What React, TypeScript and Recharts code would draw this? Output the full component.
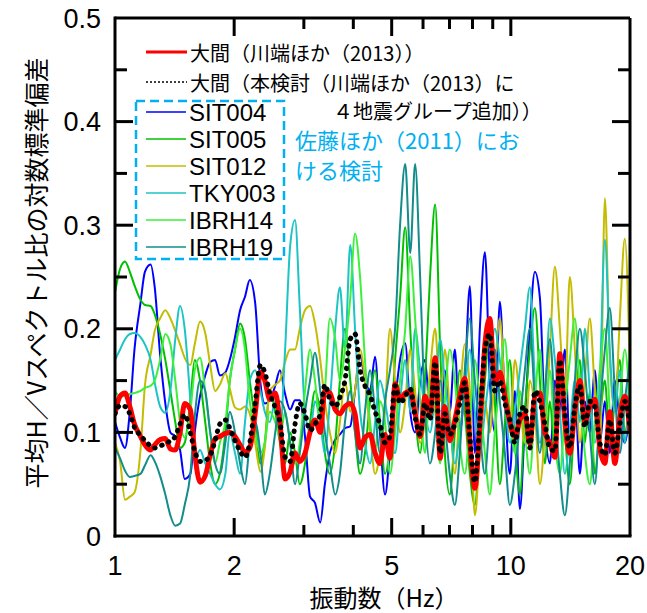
import { LineChart, Line, XAxis, YAxis, Label, ReferenceLine } from "recharts";

// 振動数 (Hz)
const freqs = [
  1.0, 1.03, 1.06, 1.09, 1.12, 1.16, 1.19, 1.23, 1.26, 1.3,
  1.34, 1.38, 1.42, 1.46, 1.5, 1.55, 1.59, 1.64, 1.69, 1.74,
  1.79, 1.84, 1.9, 1.95, 2.01, 2.07, 2.13, 2.19, 2.26, 2.33,
  2.39, 2.46, 2.54, 2.61, 2.69, 2.77, 2.85, 2.93, 3.02, 3.11,
  3.2, 3.3, 3.39, 3.49, 3.6, 3.7, 3.81, 3.93, 4.04, 4.16,
  4.28, 4.41, 4.54, 4.67, 4.81, 4.95, 5.1, 5.25, 5.41, 5.57,
  5.73, 5.9, 6.07, 6.25, 6.44, 6.63, 6.81, 7.01, 7.22, 7.43,
  7.65, 7.88, 8.11, 8.35, 8.6, 8.85, 9.11, 9.38, 9.66, 9.94,
  10.24, 10.54, 10.85, 11.17, 11.5, 11.84, 12.19, 12.55, 12.92, 13.3,
  13.69, 14.09, 14.51, 14.94, 15.38, 15.83, 16.3, 16.78, 17.28, 17.78,
  18.31, 18.85, 19.41, 20.0,
];

// 大間（川端ほか（2013））
const kawabata = [
  0.118, 0.135, 0.138, 0.125, 0.108, 0.096, 0.088, 0.083, 0.088, 0.093,
  0.094, 0.084, 0.083, 0.1, 0.128, 0.122, 0.08, 0.052, 0.058, 0.078,
  0.094, 0.096, 0.099, 0.1, 0.096, 0.088, 0.081, 0.085, 0.118, 0.158,
  0.15, 0.132, 0.138, 0.11, 0.055, 0.062, 0.08, 0.072, 0.08, 0.1,
  0.112, 0.1, 0.14, 0.138, 0.122, 0.118, 0.125, 0.128, 0.118, 0.085,
  0.095, 0.098, 0.08, 0.07, 0.098, 0.075, 0.147, 0.132, 0.138, 0.14,
  0.118, 0.096, 0.135, 0.118, 0.172, 0.075, 0.125, 0.092, 0.112, 0.135,
  0.152, 0.09, 0.046, 0.105, 0.185, 0.21, 0.148, 0.158, 0.135, 0.11,
  0.096, 0.112, 0.118, 0.089, 0.135, 0.138, 0.1, 0.09, 0.076, 0.176,
  0.11, 0.08, 0.12, 0.15, 0.11, 0.125, 0.132, 0.085, 0.07, 0.12,
  0.07, 0.115, 0.135, 0.1,
];

// 大間（本検討）
const honkento = [
  0.118, 0.126, 0.125, 0.118, 0.105, 0.097, 0.092, 0.087, 0.085, 0.087,
  0.089, 0.092, 0.096, 0.108, 0.117, 0.1, 0.082, 0.072, 0.073, 0.078,
  0.092, 0.108, 0.112, 0.104, 0.092, 0.082, 0.076, 0.09, 0.128, 0.165,
  0.158, 0.138, 0.124, 0.11, 0.076, 0.072, 0.108, 0.128, 0.118, 0.102,
  0.108, 0.118, 0.146, 0.132, 0.125, 0.134, 0.15, 0.19, 0.195, 0.16,
  0.145, 0.136, 0.12, 0.108, 0.09, 0.096, 0.145, 0.128, 0.135, 0.142,
  0.115, 0.098, 0.128, 0.112, 0.168, 0.08, 0.118, 0.098, 0.108, 0.128,
  0.148, 0.095, 0.052, 0.112, 0.18, 0.195, 0.14, 0.15, 0.128, 0.112,
  0.09, 0.118, 0.125, 0.085, 0.14, 0.13, 0.108, 0.085, 0.082, 0.17,
  0.118, 0.085, 0.125, 0.145, 0.105, 0.13, 0.125, 0.09, 0.078, 0.112,
  0.08, 0.108, 0.13, 0.105,
];

const sit004 = [
  0.11, 0.095, 0.085, 0.12, 0.18, 0.225, 0.255, 0.262, 0.24, 0.175,
  0.128, 0.1, 0.096, 0.083, 0.055, 0.06, 0.1, 0.135, 0.155, 0.168,
  0.17, 0.155, 0.158, 0.17, 0.192, 0.218, 0.231, 0.247, 0.225, 0.148,
  0.128, 0.131, 0.145, 0.16, 0.137, 0.122, 0.131, 0.131, 0.096, 0.038,
  0.032, 0.013, 0.05, 0.08, 0.093, 0.098, 0.104, 0.106, 0.14, 0.175,
  0.15, 0.141, 0.173, 0.1, 0.04, 0.08, 0.13, 0.17, 0.186, 0.12,
  0.1, 0.15, 0.17, 0.12, 0.14, 0.09, 0.16, 0.12, 0.18, 0.1,
  0.15, 0.241, 0.08, 0.2, 0.274, 0.15, 0.1, 0.226, 0.13, 0.06,
  0.14, 0.026, 0.11, 0.2, 0.255, 0.23, 0.11, 0.07, 0.15, 0.12,
  0.18, 0.09, 0.14, 0.06, 0.13, 0.1, 0.16, 0.09, 0.13, 0.08,
  0.15, 0.11, 0.09, 0.13,
];

const sit005 = [
  0.235, 0.258, 0.265, 0.255, 0.242, 0.228, 0.223, 0.222, 0.214, 0.195,
  0.17, 0.14, 0.11, 0.085, 0.09, 0.13, 0.17, 0.15, 0.11, 0.07,
  0.05, 0.06, 0.1, 0.15, 0.18, 0.205, 0.19, 0.15, 0.11, 0.07,
  0.09, 0.14, 0.12, 0.09, 0.07, 0.1, 0.08, 0.05, 0.07, 0.11,
  0.14, 0.12, 0.08, 0.06, 0.09, 0.15, 0.2, 0.15, 0.1, 0.06,
  0.08, 0.13, 0.16, 0.11, 0.06, 0.09, 0.17, 0.23, 0.298, 0.2,
  0.12, 0.08, 0.15, 0.25, 0.32, 0.18, 0.08, 0.04, 0.1, 0.16,
  0.12, 0.06, 0.03, 0.09, 0.15, 0.2, 0.13, 0.05, 0.11, 0.17,
  0.09, 0.04, 0.12, 0.18, 0.22, 0.15, 0.07, 0.13, 0.08, 0.16,
  0.1, 0.05, 0.12, 0.17, 0.09, 0.14, 0.06, 0.11, 0.15, 0.09,
  0.13, 0.17, 0.1, 0.14,
];

const sit012 = [
  0.09, 0.072, 0.035, 0.038, 0.042, 0.083, 0.145, 0.175, 0.198, 0.21,
  0.218, 0.21, 0.198, 0.185, 0.172, 0.165, 0.185, 0.207, 0.196, 0.165,
  0.14, 0.146, 0.157, 0.142, 0.124, 0.122, 0.125, 0.118, 0.09, 0.062,
  0.085, 0.14, 0.146, 0.15, 0.168, 0.18, 0.18, 0.2, 0.218, 0.222,
  0.205, 0.17, 0.13, 0.1, 0.08, 0.11, 0.15, 0.12, 0.14, 0.18,
  0.15, 0.1, 0.06, 0.08, 0.12, 0.2, 0.15, 0.1, 0.13, 0.18,
  0.14, 0.09, 0.11, 0.16, 0.2, 0.13, 0.18, 0.12, 0.06, 0.13,
  0.185, 0.14, 0.02, 0.08, 0.13, 0.1, 0.16, 0.21, 0.14, 0.1,
  0.17, 0.13, 0.09, 0.15, 0.12, 0.05, 0.1, 0.18, 0.26, 0.2,
  0.13, 0.25, 0.18, 0.09, 0.15, 0.21, 0.14, 0.08, 0.326, 0.17,
  0.12, 0.21, 0.287, 0.15,
];

const tky003 = [
  0.17, 0.18, 0.19, 0.195, 0.196, 0.192, 0.185, 0.17, 0.148, 0.125,
  0.119, 0.14, 0.19, 0.222, 0.2, 0.131, 0.075, 0.083, 0.07, 0.06,
  0.05, 0.045, 0.06, 0.1, 0.08, 0.06, 0.11, 0.15, 0.16, 0.14,
  0.12, 0.11, 0.13, 0.1, 0.18, 0.28, 0.305, 0.22, 0.12, 0.1,
  0.13, 0.11, 0.08, 0.13, 0.2, 0.24, 0.18, 0.281, 0.2, 0.12,
  0.09, 0.07, 0.11, 0.15, 0.13, 0.1, 0.08, 0.13, 0.17, 0.12,
  0.2, 0.16, 0.12, 0.1, 0.14, 0.19, 0.15, 0.11, 0.07, 0.1,
  0.14, 0.18, 0.12, 0.08, 0.12, 0.16, 0.2, 0.17, 0.13, 0.09,
  0.12, 0.16, 0.2, 0.24, 0.15, 0.09, 0.13, 0.21, 0.17, 0.12,
  0.06, 0.1, 0.15, 0.11, 0.2, 0.14, 0.09, 0.15, 0.286, 0.18,
  0.12, 0.16, 0.09, 0.18,
];

const ibrh14 = [
  0.14, 0.135, 0.135, 0.137, 0.138, 0.14, 0.143, 0.145, 0.15, 0.17,
  0.195, 0.185, 0.15, 0.11, 0.095, 0.12, 0.16, 0.172, 0.14, 0.1,
  0.07, 0.09, 0.11, 0.15, 0.18, 0.2, 0.18, 0.13, 0.1, 0.08,
  0.09, 0.12, 0.11, 0.095, 0.12, 0.09, 0.07, 0.09, 0.14, 0.18,
  0.15, 0.11, 0.14, 0.21, 0.19, 0.15, 0.18, 0.23, 0.292, 0.25,
  0.17, 0.11, 0.08, 0.13, 0.11, 0.06, 0.1, 0.15, 0.2, 0.27,
  0.21, 0.13, 0.08, 0.15, 0.12, 0.07, 0.13, 0.18, 0.15, 0.09,
  0.06, 0.11, 0.17, 0.13, 0.08, 0.04, 0.1, 0.15, 0.19, 0.12,
  0.08, 0.14, 0.1, 0.06, 0.13, 0.18, 0.11, 0.16, 0.09, 0.06,
  0.12, 0.17, 0.21, 0.14, 0.08, 0.05, 0.11, 0.16, 0.2, 0.12,
  0.07, 0.13, 0.18, 0.12,
];

const ibrh19 = [
  0.085, 0.075, 0.063, 0.057, 0.058, 0.06, 0.068, 0.078, 0.072, 0.058,
  0.04, 0.02, 0.01, 0.012, 0.03, 0.06, 0.115, 0.15, 0.14, 0.1,
  0.07, 0.06, 0.09, 0.12, 0.1, 0.07, 0.05, 0.09, 0.11, 0.08,
  0.04, 0.06, 0.1, 0.13, 0.12, 0.09, 0.05, 0.08, 0.12, 0.15,
  0.177, 0.14, 0.1, 0.07, 0.04, 0.06, 0.11, 0.14, 0.1, 0.07,
  0.12, 0.16, 0.12, 0.08, 0.13, 0.16, 0.2, 0.3, 0.359, 0.273,
  0.359, 0.25, 0.12, 0.07, 0.1, 0.15, 0.11, 0.06, 0.03, 0.08,
  0.16, 0.21, 0.15, 0.1, 0.06, 0.12, 0.18, 0.13, 0.08, 0.03,
  0.06, 0.11, 0.16, 0.2, 0.13, 0.08, 0.14, 0.19, 0.12, 0.06,
  0.02, 0.07, 0.15, 0.2, 0.16, 0.1, 0.05, 0.12, 0.18, 0.22,
  0.14, 0.08, 0.13, 0.17,
];

const xLabelTicks = [1, 2, 5, 10, 20];
const xMajorTicks = [2, 5, 10];
const xMinorTicks = [3, 4, 6, 7, 8, 9];
const yLabelTicks = [0, 0.1, 0.2, 0.3, 0.4, 0.5];
const yMajorTicks = [0.1, 0.2, 0.3, 0.4];
const yMinorTicks = [0.05, 0.15, 0.25, 0.35, 0.45];

const stations = [
  { key: "sit004", name: "SIT004", color: "#0000ff" },
  { key: "sit005", name: "SIT005", color: "#00c000" },
  { key: "sit012", name: "SIT012", color: "#c4bc00" },
  { key: "tky003", name: "TKY003", color: "#1cc4c4" },
  { key: "ibrh14", name: "IBRH14", color: "#3cf03c" },
  { key: "ibrh19", name: "IBRH19", color: "#138c8c" },
];

const rows = freqs.map((f, i) => ({
  f,
  kawabata: kawabata[i],
  honkento: honkento[i],
  sit004: sit004[i],
  sit005: sit005[i],
  sit012: sit012[i],
  tky003: tky003[i],
  ibrh14: ibrh14[i],
  ibrh19: ibrh19[i],
}));

const FONT = '"Liberation Sans", "Noto Sans CJK JP", sans-serif';
const JP = '"Noto Sans CJK JP", sans-serif';

// plot box (fixed by the chart margins below)
const W = 647;
const H = 613;
const TOP = 18;
const LEFT = 115;
const RIGHT = 630;
const BOTTOM = 536;

// bottom labels + inward ticks on bottom and top
function XTick(props: any) {
  const { x, y, payload } = props;
  const v = payload.value;
  const len = xMajorTicks.includes(v) ? 18 : xMinorTicks.includes(v) ? 11 : 0;
  return (
    <g>
      {len > 0 && (
        <>
          <line x1={x} x2={x} y1={BOTTOM} y2={BOTTOM - len} stroke="#000" strokeWidth={3} />
          <line x1={x} x2={x} y1={TOP} y2={TOP + len} stroke="#000" strokeWidth={3} />
        </>
      )}
      {xLabelTicks.includes(v) && (
        <text x={x} y={y} dy="0.71em" textAnchor="middle" fontSize={27} fontFamily={FONT} fill="#000">
          {v}
        </text>
      )}
    </g>
  );
}

// left labels + inward ticks on left and right
function YTick(props: any) {
  const { x, y, payload } = props;
  const v = payload.value;
  const len = yMajorTicks.includes(v) ? 18 : yMinorTicks.includes(v) ? 12 : 0;
  return (
    <g>
      {len > 0 && (
        <>
          <line x1={LEFT} x2={LEFT + len} y1={y} y2={y} stroke="#000" strokeWidth={3} />
          <line x1={RIGHT} x2={RIGHT - len} y1={y} y2={y} stroke="#000" strokeWidth={3} />
        </>
      )}
      {yLabelTicks.includes(v) && (
        <text x={x} y={y} dy="0.355em" textAnchor="end" fontSize={27} fontFamily={FONT} fill="#000">
          {v}
        </text>
      )}
    </g>
  );
}

function LegendBox() {
  return (
    <svg
      width={W}
      height={280}
      style={{ position: "absolute", left: 0, top: 0, pointerEvents: "none" }}
    >
      <line x1={146} x2={187} y1={52} y2={52} stroke="#ff0000" strokeWidth={3} />
      <text x={190} y={52} fontSize={20} fontFamily={JP} dominantBaseline="central">
        大間（川端ほか（2013））
      </text>
      <line x1={146} x2={187} y1={82} y2={82} stroke="#000" strokeWidth={1.5} strokeDasharray="2 2" />
      <text x={190} y={82} fontSize={20} fontFamily={JP} dominantBaseline="central">
        大間（本検討（川端ほか（2013）に
      </text>
      <text x={333} y={110} fontSize={20} fontFamily={JP} dominantBaseline="central">
        ４地震グループ追加））
      </text>

      <rect x={136} y={101} width={148} height={158} fill="none" stroke="#00b0f0" strokeWidth={2.5} strokeDasharray="9 5" />
      {stations.map((s, i) => (
        <g key={s.key}>
          <line x1={146} x2={186} y1={112 + i * 27} y2={112 + i * 27} stroke={s.color} strokeWidth={1.5} />
          <text x={189} y={112 + i * 27} fontSize={24} fontFamily={FONT} dominantBaseline="central">
            {s.name}
          </text>
        </g>
      ))}
      <text x={295} y={139} fontSize={22} fontFamily={JP} fill="#00b0f0" dominantBaseline="central">
        佐藤ほか（2011）にお
      </text>
      <text x={295} y={169} fontSize={22} fontFamily={JP} fill="#00b0f0" dominantBaseline="central">
        ける検討
      </text>
    </svg>
  );
}

const frame = { stroke: "#000", strokeWidth: 3, strokeLinecap: "square" as const };

export default function App() {
  return (
    <div style={{ position: "absolute", left: 0, top: 0, width: W, height: H, background: "#fff" }}>
      <LineChart
        width={W}
        height={H}
        data={rows}
        margin={{ top: TOP, right: W - RIGHT, bottom: 0, left: 0 }}
      >
        <XAxis
          xAxisId="b"
          dataKey="f"
          type="number"
          scale="log"
          domain={[1, 20]}
          allowDataOverflow
          ticks={[1, 2, 3, 4, 5, 6, 7, 8, 9, 10, 20]}
          interval={0}
          height={H - BOTTOM}
          tickLine={false}
          tickSize={0}
          tickMargin={20}
          axisLine={frame}
          tick={<XTick />}
        >
          <Label
            content={() => (
              <text x={384} y={607} textAnchor="middle" fontSize={24} fontFamily={JP} fill="#000">
                振動数（Hz）
              </text>
            )}
          />
        </XAxis>
        <YAxis
          yAxisId="l"
          type="number"
          domain={[0, 0.5]}
          allowDataOverflow
          ticks={[0, 0.05, 0.1, 0.15, 0.2, 0.25, 0.3, 0.35, 0.4, 0.45, 0.5]}
          interval={0}
          width={LEFT}
          tickLine={false}
          tickSize={0}
          tickMargin={14}
          axisLine={frame}
          tick={<YTick />}
        >
          <Label
            content={() => (
              <text
                x={35}
                y={273}
                transform="rotate(-90, 35, 273)"
                textAnchor="middle"
                dominantBaseline="central"
                fontSize={25}
                fontFamily={JP}
                fill="#000"
              >
                平均H／Vスペクトル比の対数標準偏差
              </text>
            )}
          />
        </YAxis>

        {stations.map((s) => (
          <Line
            key={s.key}
            xAxisId="b"
            yAxisId="l"
            type="monotone"
            dataKey={s.key}
            name={s.name}
            stroke={s.color}
            strokeWidth={2}
            dot={false}
            isAnimationActive={false}
          />
        ))}
        <Line
          xAxisId="b"
          yAxisId="l"
          type="monotone"
          dataKey="kawabata"
          name="大間（川端ほか（2013））"
          stroke="#ff0000"
          strokeWidth={5}
          dot={false}
          isAnimationActive={false}
        />
        <Line
          xAxisId="b"
          yAxisId="l"
          type="monotone"
          dataKey="honkento"
          name="大間（本検討）"
          stroke="#000"
          strokeWidth={5}
          strokeDasharray="0.5 7"
          strokeLinecap="round"
          dot={false}
          isAnimationActive={false}
        />

        {/* top and right sides of the frame */}
        <ReferenceLine xAxisId="b" yAxisId="l" y={0.5} stroke="#000" strokeWidth={3} />
        <ReferenceLine xAxisId="b" yAxisId="l" x={20} stroke="#000" strokeWidth={3} />
      </LineChart>
      <LegendBox />
    </div>
  );
}
